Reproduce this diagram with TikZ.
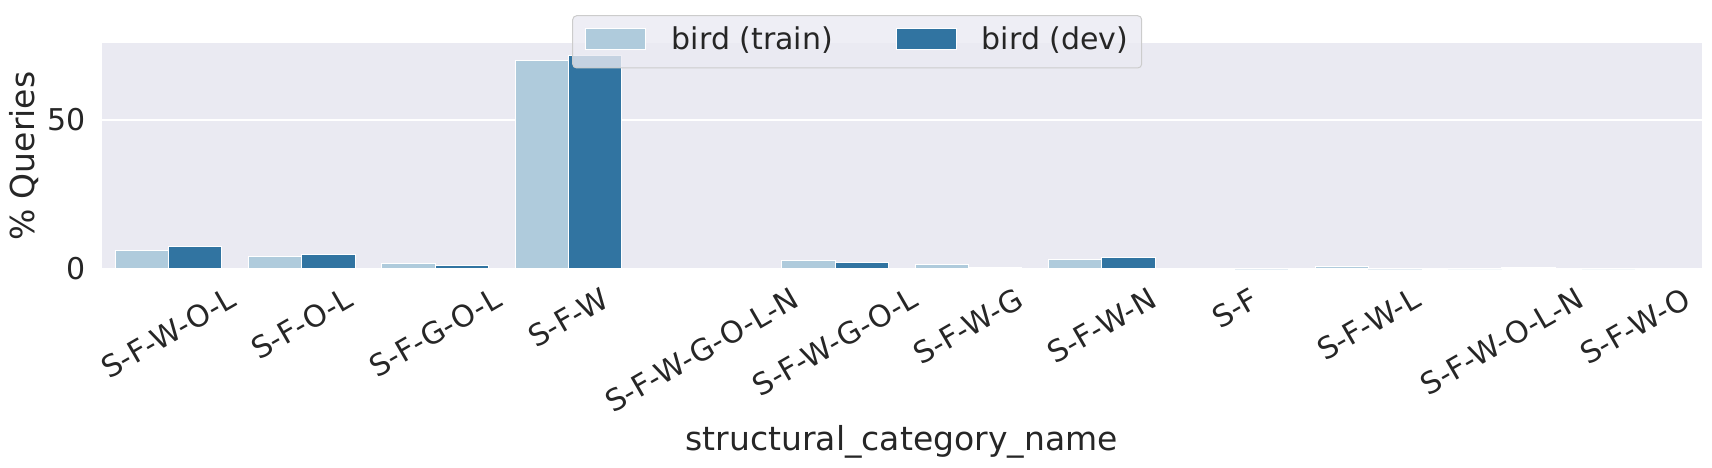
\documentclass[tikz,border=0pt]{standalone}
\usepackage{fontspec}
\setmainfont{DejaVu Sans}
\usepackage{graphicx}
\usepackage{tikz}

\definecolor{trainblue}{HTML}{AFCBDC}
\definecolor{devblue}{HTML}{3174A1}
\definecolor{axbg}{HTML}{EAEAF2}
\definecolor{legedge}{HTML}{CCCCCC}
\definecolor{txtgray}{HTML}{262626}

\newcommand\tickfont{\fontsize{30}{36}\selectfont}
\newcommand\labfont{\fontsize{33}{40}\selectfont}

\tikzset{
  trainbar/.style={fill=trainblue, draw=white, line width=1pt},
  devbar/.style={fill=devblue, draw=white, line width=1pt},
  gridline/.style={draw=white, line width=1.5pt},
  ticklab/.style={anchor=north, inner sep=0pt, font=\tickfont, text=txtgray},
  leglab/.style={anchor=base west, inner sep=0pt, font=\tickfont, text=txtgray},
}

\begin{document}
\begin{tikzpicture}[x=1pt, y=1pt]

  \newcommand\X{133.33pt}% one category
  \newcommand\Y{2.98pt}% one percent

  \useasboundingbox (-101.7, -199) rectangle (1610.3, 269);

  %% axes background and grid
  \fill[axbg] (0, 0) rectangle (12*\X, 75.7*\Y);
  \draw[gridline] (0, 0) -- (12*\X, 0);
  \draw[gridline] (0, 50*\Y) -- (12*\X, 50*\Y);

  %% #1 index, #2 train, #3 dev, #4 label
  \newcommand\Bars[4]{%
    \draw[trainbar] ({(#1+0.1)*\X}, 0) rectangle ({(#1+0.5)*\X}, #2*\Y);
    \draw[devbar] ({(#1+0.5)*\X}, 0) rectangle ({(#1+0.9)*\X}, #3*\Y);
    \node[ticklab] (lab#1) at ({(#1+0.5)*\X}, -17) {\rotatebox{30}{#4}};
  }

  \Bars{0}{6.1}{7.4}{S-F-W-O-L}
  \Bars{1}{4.1}{4.7}{S-F-O-L}
  \Bars{2}{2.0}{1.3}{S-F-G-O-L}
  \Bars{3}{70.1}{71.5}{S-F-W}
  \Bars{4}{0.25}{0.2}{S-F-W-G-O-L-N}
  \Bars{5}{2.8}{2.1}{S-F-W-G-O-L}
  \Bars{6}{1.6}{0.45}{S-F-W-G}
  \Bars{7}{3.1}{3.8}{S-F-W-N}
  \Bars{8}{0.25}{0}{S-F}
  \Bars{9}{0.9}{0}{S-F-W-L}
  \Bars{10}{0}{0.5}{S-F-W-O-L-N}
  \Bars{11}{0}{0.25}{S-F-W-O}

  %% y ticks and axis labels
  \node[anchor=east, inner sep=0pt, font=\tickfont, text=txtgray] (yzero) at (-16, 0) {0};
  \node[anchor=east, inner sep=0pt, font=\tickfont, text=txtgray] (yfifty) at (-16, 50*\Y) {50};
  \node[rotate=90, anchor=base, inner sep=0pt, font=\labfont, text=txtgray] (ylab) at (-66.7, 112.7) {\% Queries};
  \node[anchor=base, inner sep=0pt, font=\labfont, text=txtgray] (xlab) at (800, -181) {structural\_category\_name};

  %% legend
  \draw[fill=axbg, fill opacity=0.8, draw=legedge, line width=1pt, rounded corners=4pt] (471, 201) rectangle (1040, 253.3);
  \draw[trainbar] (483.3, 219) rectangle (543.3, 240);
  \node[leglab] (lgtrain) at (570, 219) {bird (train)};
  \draw[devbar] (794.3, 219) rectangle (854.3, 240);
  \node[leglab] (lgdev) at (880, 219) {bird (dev)};

\end{tikzpicture}
\end{document}
